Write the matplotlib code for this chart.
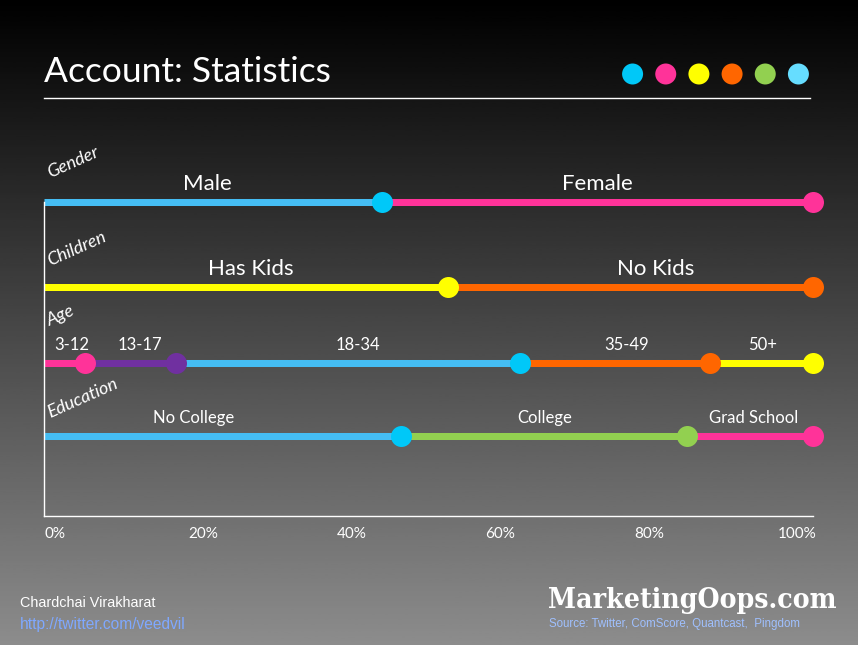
"""
Account statistics slide: segmented share lines (gender, children, age, education).
"""

import numpy as np
import matplotlib as mpl
import matplotlib.pyplot as plt
from matplotlib.lines import Line2D

# -----------------------------------------------------------------------------
# Data (shares in %, each row sums to 100)
# -----------------------------------------------------------------------------
ROW_NAMES = ["Gender", "Children", "Age", "Education"]

gender_labels = ["Male", "Female"]
gender_values = [44, 56]

children_labels = ["Has Kids", "No Kids"]
children_values = [52.5, 47.5]

age_labels = ["3-12", "13-17", "18-34", "35-49", "50+"]
age_values = [5.3, 11.9, 44.7, 24.7, 13.4]

education_labels = ["No College", "College", "Grad School"]
education_values = [46.4, 37.2, 16.4]

tick_values = [0, 20, 40, 60, 80, 100]
tick_labels = ["0%", "20%", "40%", "60%", "80%", "100%"]

# -----------------------------------------------------------------------------
# Colours and layout
# -----------------------------------------------------------------------------
BLUE = "#45BDF3"
CYAN = "#00C8F8"
PINK = "#FF3399"
YELLOW = "#FFFF00"
ORANGE = "#FF6600"
PURPLE = "#7030A0"
GREEN = "#92D050"
LIGHT_CYAN = "#66DDFF"

ROWS = [
    (gender_labels, gender_values, [BLUE, PINK], [CYAN, PINK]),
    (children_labels, children_values, [YELLOW, ORANGE], [YELLOW, ORANGE]),
    (age_labels, age_values, [PINK, PURPLE, BLUE, ORANGE, YELLOW],
     [PINK, PURPLE, CYAN, ORANGE, YELLOW]),
    (education_labels, education_values, [BLUE, GREEN, PINK], [CYAN, GREEN, PINK]),
]

ROW_Y = [1.0, 0.73, 0.488, 0.255]          # vertical position of each row (axes units)
LABEL_SIZE = [16, 16, 12, 12]               # segment label font size per row
LABEL_SHIFT = [                              # small horizontal nudges of segment labels (%)
    [-0.7, 0], [0.6, 3.3], [0.9, 1.2, 1.3, 1.5, 0.1], [-3.8, 0.1, 0.5],
]
NAME_OFFSET = [21, 18, 34, 15]               # category label height above its row (px)

FONT = ["Lato", "DejaVu Sans"]
NARROW = ["Liberation Sans Narrow", "Liberation Sans", "DejaVu Sans"]

mpl.rcParams["font.family"] = FONT
PX = 72 / 100  # points per pixel at dpi 100

fig = plt.figure(figsize=(8.58, 6.45), dpi=100)

# background: vertical black -> grey gradient
bg = fig.add_axes([0, 0, 1, 1], zorder=-5)
grad = np.linspace(0.0, 0.55, 256).reshape(-1, 1)
bg.imshow(grad, aspect="auto", cmap="gray", vmin=0, vmax=1, extent=(0, 1, 0, 1), origin="upper")
bg.set_axis_off()

# header
fig.text(44 / 858, 1 - 72 / 645, "Account: Statistics", color="white", fontsize=25.5,
         va="center", ha="left")
fig.add_artist(Line2D([44 / 858, 810 / 858], [1 - 98 / 645] * 2, color="white", lw=1))
hax = fig.add_axes([616 / 858, 1 - 85 / 645, 199 / 858, 22 / 645])
hax.scatter(range(6), [0] * 6, s=(21 * PX) ** 2,
            c=[CYAN, PINK, YELLOW, ORANGE, GREEN, LIGHT_CYAN], linewidths=0)
hax.set_xlim(-0.5, 5.5)
hax.set_ylim(-1, 1)
hax.set_axis_off()

# main chart
ax = fig.add_axes([44 / 858, (645 - 516) / 645, 769 / 858, 314 / 645])
ax.patch.set_alpha(0)
ax.set_xlim(0, 100)
ax.set_ylim(0, 1)

for i, (labels, values, line_cols, mark_cols) in enumerate(ROWS):
    y = ROW_Y[i]
    edges = np.concatenate([[0], np.cumsum(values)])
    for j in range(len(values)):
        ax.plot([edges[j], edges[j + 1]], [y, y], color=line_cols[j], lw=7 * PX,
                solid_capstyle="butt", clip_on=False, zorder=2)
    for j in range(len(values)):
        ax.plot(edges[j + 1], y, "o", color=mark_cols[j], markersize=21 * PX,
                markeredgewidth=0, clip_on=False, zorder=3)
        mid = (edges[j] + edges[j + 1]) / 2 + LABEL_SHIFT[i][j]
        ax.annotate(labels[j], (mid, y), xytext=(0, 18 * PX), textcoords="offset points",
                    ha="center", va="center", color="white", fontsize=LABEL_SIZE[i])
    ax.annotate(ROW_NAMES[i], (0, y), xytext=(7 * PX, NAME_OFFSET[i] * PX),
                textcoords="offset points", ha="left", va="bottom", rotation=24,
                rotation_mode="anchor", color="white", fontsize=13, style="italic")

for side in ["top", "right"]:
    ax.spines[side].set_visible(False)
for side in ["left", "bottom"]:
    ax.spines[side].set_color("white")
    ax.spines[side].set_linewidth(1)
ax.set_yticks([])
# labels sit slightly inside the axis ends, as on the slide
ax.set_xticks([1.4 + v * 0.966 for v in tick_values], tick_labels)
ax.tick_params(axis="x", length=0, pad=8, colors="white", labelsize=11)

# footer
fig.text(20 / 858, 1 - 603 / 645, "Chardchai Virakharat", color="white", fontsize=10.4,
         family=NARROW, va="center")
fig.text(20 / 858, 1 - 624 / 645, "http://twitter.com/veedvil", color="#7FA8FF",
         fontsize=11.2, family=NARROW, va="center")
fig.text(548 / 858, 1 - 600 / 645, "MarketingOops.com", color="white", fontsize=20.3,
         family=["DejaVu Serif"], weight="bold", stretch="condensed", va="center")
fig.text(549 / 858, 1 - 624 / 645, "Source: Twitter, ComScore, Quantcast,  Pingdom",
         color="#9FC0FF", fontsize=8.3, family=NARROW, va="center")

fig.savefig("out.png", dpi=100)
plt.close()
